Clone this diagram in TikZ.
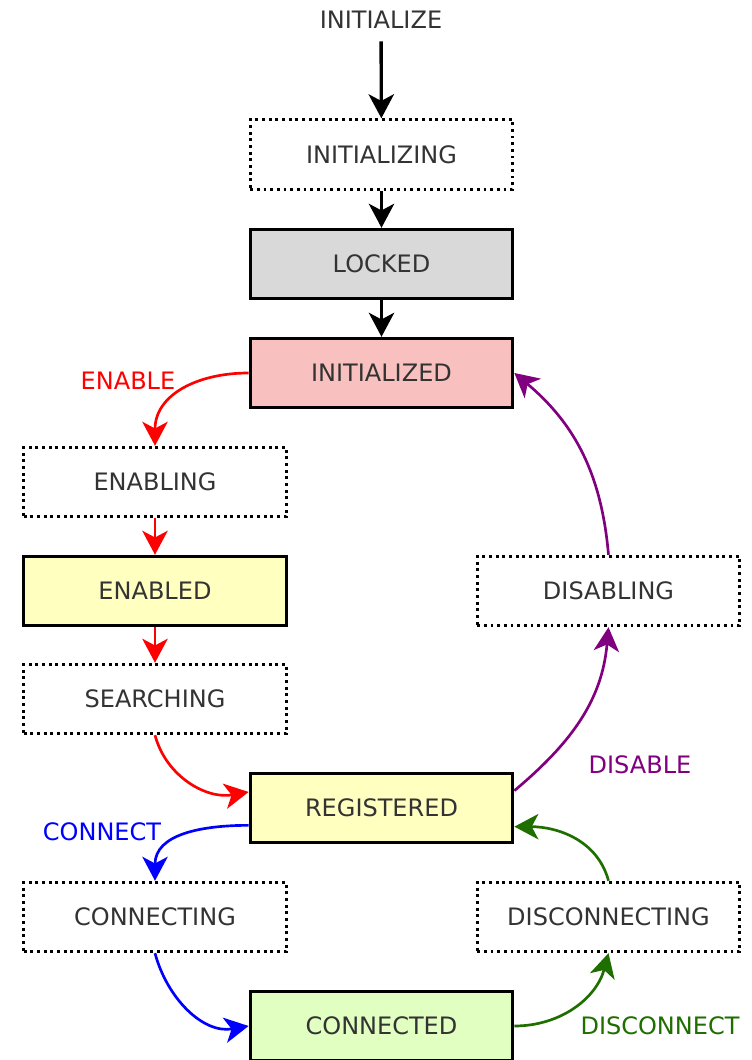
\documentclass[tikz,border=0pt]{standalone}
\usepackage{fontspec}
\setmainfont{DejaVu Sans}
\usetikzlibrary{arrows.meta}

\definecolor{textgray}{HTML}{333333}
\definecolor{lockedfill}{HTML}{D9D9D9}
\definecolor{initfill}{HTML}{F9C0C0}
\definecolor{yellowfill}{HTML}{FFFFC0}
\definecolor{greenfill}{HTML}{E0FFC0}
\definecolor{enablered}{HTML}{FF0000}
\definecolor{connectblue}{HTML}{0000FF}
\definecolor{discgreen}{HTML}{1E6E00}
\definecolor{disablepurple}{HTML}{800080}

\begin{document}
\begin{tikzpicture}[x=0.75pt,y=0.75pt,
    font=\fontsize{18pt}{22pt}\selectfont,
    state/.style={draw=black,line width=2.3pt,minimum width=197pt,
                  minimum height=52pt,text=textgray},
    transient/.style={state,dash pattern=on 2.2pt off 2.8pt},
    edge/.style={-{Stealth[length=18pt,width=19pt,inset=5pt]},line width=2pt},
    mainedge/.style={edge,line width=2.5pt}]
    \useasboundingbox (0,0) rectangle (751,1060);

    % states
    \node[text=textgray] (init) at (381,1040) {INITIALIZE};
    \node[transient] (initing) at (381.5,905.5) {INITIALIZING};
    \node[state,fill=lockedfill] (locked) at (381.5,796) {LOCKED};
    \node[state,fill=initfill] (inited) at (381.5,687) {INITIALIZED};
    \node[transient] (enabling) at (155,578) {ENABLING};
    \node[state,fill=yellowfill] (enabled) at (155,469) {ENABLED};
    \node[transient] (searching) at (155,361) {SEARCHING};
    \node[transient] (disabling) at (608.5,469) {DISABLING};
    \node[state,fill=yellowfill] (registered) at (381.5,252) {REGISTERED};
    \node[transient] (connecting) at (155,143) {CONNECTING};
    \node[transient] (disconnecting) at (608.5,143) {DISCONNECTING};
    \node[state,fill=greenfill] (connected) at (381.5,34) {CONNECTED};

    % event labels
    \node[text=enablered] (lblenable) at (128,679) {ENABLE};
    \node[text=connectblue] (lblconnect) at (102,228) {CONNECT};
    \node[text=disablepurple] (lbldisable) at (640,295) {DISABLE};
    \node[text=discgreen] (lbldisconnect) at (660,34) {DISCONNECT};

    % startup
    \draw[mainedge,shorten <=6pt] (init) -- (initing);
    \draw[mainedge] (initing) -- (locked);
    \draw[mainedge] (locked) -- (inited);

    % enable path
    \draw[edge,enablered] (inited.west) to[out=180,in=90,looseness=1.1] (enabling.north);
    \draw[edge,enablered] (enabling) -- (enabled);
    \draw[edge,enablered] (enabled) -- (searching);
    \draw[edge,enablered] (searching.south) to[out=-75,in=190]
        ([yshift=12pt]registered.west);

    % connect / disconnect
    \draw[edge,connectblue] ([yshift=-13pt]registered.west) to[out=180,in=90,looseness=1.1]
        (connecting.north);
    \draw[edge,connectblue] (connecting.south) to[out=-75,in=190]
        (connected.west);
    \draw[edge,discgreen] (connected.east) to[out=0,in=-105]
        (disconnecting.south);
    \draw[edge,discgreen] (disconnecting.north) to[out=105,in=0]
        ([yshift=-14pt]registered.east);

    % disable
    \draw[edge,disablepurple] ([yshift=13pt]registered.east) to[out=40,in=-95]
        (disabling.south);
    \draw[edge,disablepurple] (disabling.north) to[out=95,in=-40]
        (inited.east);
\end{tikzpicture}
\end{document}
